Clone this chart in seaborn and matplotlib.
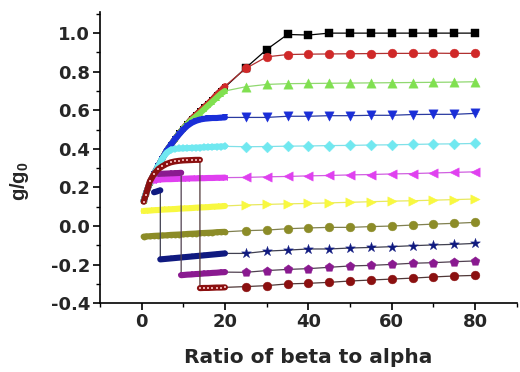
import matplotlib
matplotlib.use("Agg")
import matplotlib.pyplot as plt
import seaborn as sns
from matplotlib.ticker import MultipleLocator

sns.set_theme(style="ticks")
plt.rcParams['font.family'] = ['DejaVu Sans']
plt.rcParams['mathtext.fontset'] = 'custom'
plt.rcParams['mathtext.bf'] = 'Liberation Sans:bold'
plt.rcParams['mathtext.rm'] = 'Liberation Sans'

# ---------------- data ----------------
SX = [25, 30, 35, 40, 45, 50, 55, 60, 65, 70, 75, 80]
DX = [0.5, 1, 2, 3, 4, 5, 6, 7, 8, 9, 10, 11, 12, 13, 14, 15, 16, 17, 18, 19, 20]

black_d = [0.13, 0.165, 0.225, 0.27, 0.31, 0.35, 0.39, 0.42, 0.45, 0.48, 0.505,
           0.53, 0.555, 0.575, 0.595, 0.615, 0.635, 0.655, 0.68, 0.70, 0.72]
black_s = [0.82, 0.915, 0.993, 0.99, 1.0, 1.0, 1.0, 1.0, 1.0, 1.0, 1.0, 1.0]

red_d = [0.13, 0.165, 0.225, 0.27, 0.31, 0.35, 0.39, 0.42, 0.45, 0.48, 0.505,
         0.53, 0.555, 0.575, 0.595, 0.615, 0.635, 0.655, 0.68, 0.70, 0.725]
red_s = [0.817, 0.877, 0.889, 0.891, 0.892, 0.893, 0.894, 0.895, 0.895, 0.896, 0.895, 0.895]

green_d = [0.13, 0.165, 0.225, 0.27, 0.31, 0.35, 0.39, 0.42, 0.45, 0.48, 0.505,
           0.53, 0.55, 0.567, 0.585, 0.605, 0.625, 0.645, 0.665, 0.685, 0.70]
green_s = [0.722, 0.734, 0.738, 0.739, 0.74, 0.741, 0.742, 0.743, 0.744, 0.745, 0.746, 0.748]

blue_d = [0.13, 0.165, 0.225, 0.27, 0.31, 0.35, 0.39, 0.42, 0.45, 0.475, 0.50,
          0.52, 0.535, 0.545, 0.552, 0.556, 0.558, 0.56, 0.56, 0.562, 0.563]
blue_s = [0.563, 0.563, 0.569, 0.569, 0.572, 0.572, 0.574, 0.574, 0.578, 0.579, 0.579, 0.584]

cyan_d = [0.13, 0.165, 0.225, 0.27, 0.31, 0.35, 0.38, 0.395, 0.40, 0.402, 0.403,
          0.404, 0.405, 0.406, 0.407, 0.408, 0.409, 0.41, 0.411, 0.412, 0.413]
cyan_s = [0.411, 0.412, 0.414, 0.415, 0.417, 0.418, 0.42, 0.421, 0.423, 0.425, 0.426, 0.428]

MX = [3, 4, 5, 6, 7, 8, 9, 10, 11, 12, 13, 14, 15, 16, 17, 18, 19, 20]
magenta_d = [0.235, 0.24, 0.242, 0.243, 0.243, 0.244, 0.245, 0.245, 0.246, 0.247,
             0.247, 0.248, 0.248, 0.249, 0.249, 0.25, 0.25, 0.251]
magenta_s = [0.252, 0.255, 0.257, 0.26, 0.262, 0.265, 0.267, 0.27, 0.272, 0.275, 0.278, 0.281]

yellow_d = [0.078, 0.079, 0.08, 0.082, 0.083, 0.085, 0.086, 0.087, 0.088, 0.09, 0.091,
            0.092, 0.093, 0.095, 0.096, 0.097, 0.098, 0.1, 0.101, 0.102, 0.104]
yellow_s = [0.109, 0.112, 0.115, 0.117, 0.12, 0.123, 0.126, 0.129, 0.131, 0.134, 0.137, 0.14]

olive_d = [-0.055, -0.054, -0.053, -0.051, -0.05, -0.049, -0.048, -0.046, -0.045, -0.044, -0.043,
           -0.041, -0.04, -0.039, -0.037, -0.036, -0.035, -0.034, -0.032, -0.031, -0.03]
olive_s = [-0.024, -0.021, -0.014, -0.01, -0.007, -0.007, -0.003, 0.0, 0.005, 0.01, 0.014, 0.019]

navy_ux = [3, 3.5, 4, 4.5]
navy_u = [0.175, 0.178, 0.182, 0.185]
navy_lx = [4.5, 5, 6, 7, 8, 9, 10, 11, 12, 13, 14, 15, 16, 17, 18, 19, 20]
navy_l = [-0.173, -0.172, -0.17, -0.168, -0.166, -0.164, -0.162, -0.16, -0.158, -0.156,
          -0.154, -0.152, -0.15, -0.148, -0.146, -0.144, -0.142]
navy_s = [-0.142, -0.13, -0.125, -0.119, -0.119, -0.114, -0.111, -0.107, -0.102, -0.098, -0.095, -0.09]

purple_ux = [4, 5, 6, 7, 8, 9, 9.5]
purple_u = [0.27, 0.271, 0.272, 0.273, 0.274, 0.275, 0.276]
purple_lx = [9.5, 10, 11, 12, 13, 14, 15, 16, 17, 18, 19, 20]
purple_l = [-0.255, -0.254, -0.252, -0.251, -0.249, -0.248, -0.246, -0.245, -0.243, -0.242, -0.24, -0.239]
purple_s = [-0.24, -0.231, -0.225, -0.221, -0.214, -0.207, -0.204, -0.199, -0.193, -0.19, -0.185, -0.181]

darkred_ux = [0.5, 1, 2, 3, 4, 5, 6, 7, 8, 9, 10, 11, 12, 13, 14]
darkred_u = [0.126, 0.16, 0.232, 0.27, 0.295, 0.31, 0.322, 0.33, 0.335, 0.338, 0.34,
             0.341, 0.342, 0.343, 0.343]
darkred_lx = [14, 15, 16, 17, 18, 19, 20]
darkred_l = [-0.322, -0.321, -0.321, -0.32, -0.319, -0.319, -0.318]
darkred_s = [-0.314, -0.309, -0.3, -0.297, -0.292, -0.285, -0.28, -0.275, -0.27, -0.264, -0.259, -0.256]

series = [
    # color, line color, marker, size, marker fill (dense), dense segments, sparse
    ('#000000', '#000000', 's', 30, None, [(DX, black_d)], black_s),
    ('#d02828', '#b03030', 'o', 40, None, [(DX, red_d)], red_s),
    ('#80e050', '#90d870', '^', 45, None, [(DX, green_d)], green_s),
    ('#1a2ed8', '#2a3aa0', 'v', 45, None, [(DX, blue_d)], blue_s),
    ('#70e8f0', '#80e0e8', 'D', 30, None, [(DX, cyan_d)], cyan_s),
    ('#e040f0', '#d060e0', '<', 45, None, [(MX, magenta_d)], magenta_s),
    ('#f8f840', '#e8e860', '>', 45, None, [(DX, yellow_d)], yellow_s),
    ('#8c8c28', '#808050', 'o', 40, None, [(DX, olive_d)], olive_s),
    ('#101a80', '#404050', '*', 55, None, [(navy_ux, navy_u), (navy_lx, navy_l)], navy_s),
    ('#8a1a90', '#504050', 'p', 45, None, [(purple_ux, purple_u), (purple_lx, purple_l)], purple_s),
    ('#8b1010', '#503838', 'o', 40, '#e8a8a8', [(darkred_ux, darkred_u), (darkred_lx, darkred_l)], darkred_s),
]

# ---------------- figure ----------------
fig = plt.figure(figsize=(5.2, 3.72), dpi=100)
ax = fig.add_axes([0.192, 0.185, 0.802, 0.783])

for i, (c, lc, m, sz, me, segs, sy) in enumerate(series):
    z = 2 + i
    allx, ally = [], []
    for xs, ys in segs:
        allx += list(xs)
        ally += list(ys)
    allx += SX
    ally += sy
    sns.lineplot(x=allx, y=ally, sort=False, estimator=None, color=lc, lw=0.9,
                 ax=ax, zorder=z - 0.2)
    for xs, ys in segs:
        if me is None:
            sns.lineplot(x=xs, y=ys, sort=False, estimator=None, color=c, lw=4.4,
                         solid_capstyle='round', marker=m, markersize=4.2,
                         markeredgewidth=0, ax=ax, zorder=z)
        else:
            sns.lineplot(x=xs, y=ys, sort=False, estimator=None, color=c, lw=4.4,
                         solid_capstyle='round', marker='s', markersize=1.5,
                         markerfacecolor=me, markeredgewidth=0, ax=ax, zorder=z)
    sns.scatterplot(x=SX, y=sy, marker=m, s=sz, color=c, edgecolor=c,
                    linewidth=0.3, ax=ax, zorder=z + 0.5)

ax.set_xlim(-10, 90)
ax.set_ylim(-0.4, 1.11)
ax.xaxis.set_major_locator(MultipleLocator(20))
ax.xaxis.set_minor_locator(MultipleLocator(10))
ax.yaxis.set_minor_locator(MultipleLocator(0.1))
ax.set_yticks([-0.4, -0.2, 0.0, 0.2, 0.4, 0.6, 0.8, 1.0])
ax.set_yticklabels(['-0.4', '-0.2', '0.0', '0.2', '0.4', '0.6', '0.8', '1.0'])

sns.despine(ax=ax)
for sp in ['left', 'bottom']:
    ax.spines[sp].set_linewidth(1.2)
    ax.spines[sp].set_color('black')
ax.tick_params(which='major', direction='out', length=5, width=1.2, color='black',
               labelsize=13, pad=2)
ax.tick_params(which='minor', direction='out', length=3, width=1.0, color='black')
for lab in ax.get_xticklabels() + ax.get_yticklabels():
    lab.set_fontweight('bold')

ax.set_xlabel('Ratio of beta to alpha', fontsize=14.5, fontweight='bold', labelpad=12)
ax.set_ylabel(r'$\mathbf{g/g_0}$', fontsize=14.5, fontweight='bold')
ax.yaxis.set_label_coords(-0.165, 0.42)

fig.savefig('out.png', dpi=100, facecolor='white')
